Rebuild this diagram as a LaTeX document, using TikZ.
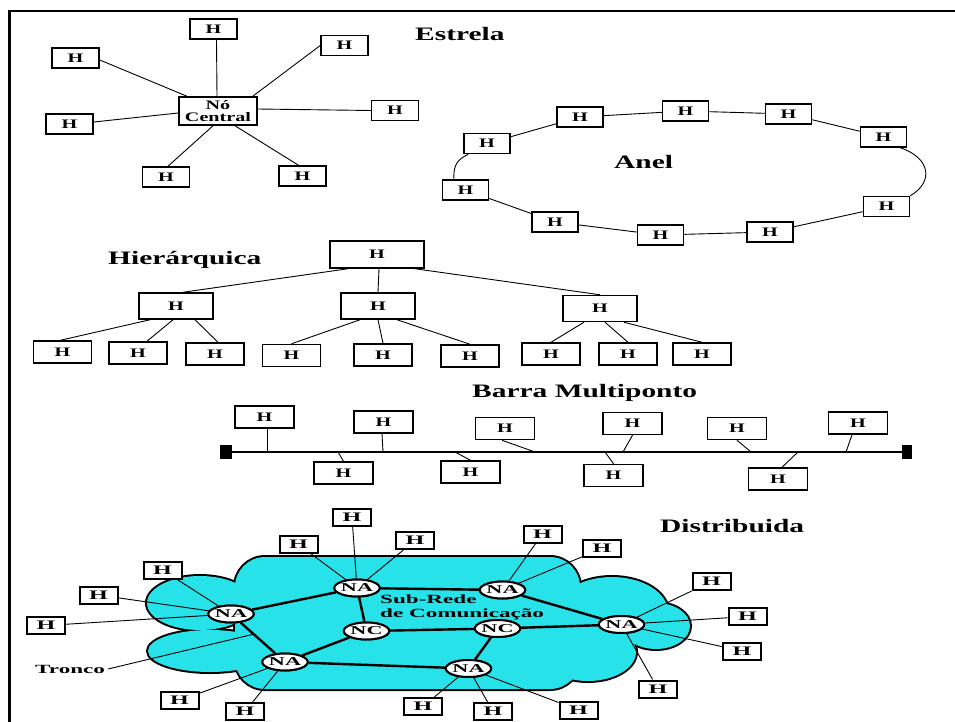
\documentclass[tikz,border=0pt]{standalone}
\usepackage{fontspec}
\setmainfont{Liberation Serif}
\newfontfamily\labf{Liberation Serif}[FakeStretch=1.55]
\newfontfamily\labw{Liberation Serif}[FakeStretch=1.85]
\usetikzlibrary{shapes.geometric,calc}
\definecolor{cloudc}{RGB}{40,226,234}
\newcommand\cloudbody[1]{%
  \path[#1,rounded corners=30pt] (235,557) rectangle (580,689);
  \path[#1] (200,603) ellipse [x radius=53pt,y radius=27pt];
  \path[#1] (210,651) ellipse [x radius=62pt,y radius=21pt];
  \path[#1] (612,612) ellipse [x radius=56pt,y radius=35pt];
  \path[#1] (656,626) ellipse [x radius=34pt,y radius=23pt];
  \path[#1] (588,652) ellipse [x radius=48pt,y radius=29pt];
}
\begin{document}
\begin{tikzpicture}[x=1pt,y=-1pt,
  ln/.style={line width=0.9pt},
  trunk/.style={line width=2.4pt},
  hb/.style={draw,line width=1.5pt,fill=white,inner sep=0pt,font=\labf\bfseries\fontsize{13}{13}\selectfont},
  sbox/.style={hb,minimum width=47pt,minimum height=20pt},
  rbox/.style={hb,minimum width=46pt,minimum height=20pt},
  topbox/.style={hb,minimum width=94pt,minimum height=27pt},
  midbox/.style={hb,minimum width=74pt,minimum height=26pt},
  leafbox/.style={hb,minimum width=58pt,minimum height=22pt},
  busbox/.style={hb,minimum width=59pt,minimum height=22pt},
  hub/.style={hb,minimum width=78pt,minimum height=28pt,align=center,font=\labf\bfseries\fontsize{13}{12}\selectfont},
  ttl/.style={inner sep=0pt,font=\labf\bfseries\fontsize{19}{19}\selectfont},
  sq/.style={fill=black,inner sep=0pt,minimum width=12pt,minimum height=14pt},
  dhost/.style={draw,line width=2pt,fill=white,inner sep=0pt,minimum width=38pt,minimum height=17pt,font=\labw\bfseries\fontsize{13}{13}\selectfont},
  na/.style={ellipse,draw,line width=2pt,fill=white,inner sep=0pt,minimum width=42pt,minimum height=17pt,font=\labw\bfseries\fontsize{12}{12}\selectfont},
  dlab/.style={inner sep=0pt,font=\labw\bfseries\fontsize{12.5}{12.5}\selectfont},
  cloudline/.style={draw=black,line width=4pt},
  cloudfill/.style={fill=cloudc}
]
\useasboundingbox (0,0) rectangle (955,722);
\clip (0,0) rectangle (955,722);
\fill[white] (0,0) rectangle (955,722);
% frame
\draw[line width=2.8pt] (9.5,722) -- (9.5,11) -- (955,11);

% ---------------- Estrela ----------------
\node[ttl,anchor=base west] (tEst) at (415,41) {Estrela};
\node[hub] (hub) at (218,111) {Nó\\Central};
\node[sbox] (s1) at (213.5,29) {H};
\node[sbox] (s2) at (75.5,58) {H};
\node[sbox] (s3) at (344.5,45.5) {H};
\node[sbox] (s4) at (395,110.5) {H};
\node[sbox] (s5) at (69.5,124) {H};
\node[sbox] (s6) at (166,177) {H};
\node[sbox] (s7) at (302.5,176) {H};
\draw[ln] ([xshift=3pt]s1.south) -- ([xshift=-1pt]hub.north);
\draw[ln] ([yshift=-2pt]s2.east) -- ([xshift=-31pt]hub.north);
\draw[ln] (s3.west) -- ([xshift=-5pt]hub.north east);
\draw[ln] (s4.west) -- ([yshift=2pt]hub.east);
\draw[ln] ([yshift=2pt]s5.east) -- ([yshift=-2pt]hub.west);
\draw[ln] ([xshift=2pt]s6.north) -- ([xshift=-5pt]hub.south);
\draw[ln] ([xshift=-4pt]s7.north) -- ([xshift=17pt]hub.south);

% ---------------- Anel ----------------
\node[ttl,anchor=base west] (tAnel) at (614,168) {Anel};
\node[rbox] (r1) at (580,117) {H};
\node[rbox] (r2) at (685.5,111) {H};
\node[rbox] (r3) at (788.5,114) {H};
\node[rbox] (r4) at (883.5,137) {H};
\node[rbox] (r5) at (886.5,206.5) {H};
\node[rbox] (r6) at (770,232) {H};
\node[rbox] (r7) at (660.5,235) {H};
\node[rbox] (r8) at (555,222) {H};
\node[rbox] (r9) at (465.5,190) {H};
\node[rbox] (r10) at (487,143.5) {H};
\foreach \a/\b in {r10/r1,r1/r2,r2/r3,r3/r4,r5/r6,r6/r7,r7/r8,r8/r9}
  \draw[ln] (\a) -- (\b);
\draw[ln] ([xshift=-7pt]r4.south east) .. controls +(30,10) and +(24,-14) .. (r5.north east);
\draw[ln] ([xshift=5pt]r10.south west) .. controls +(-12,6) and +(0,-14) .. ([xshift=12pt]r9.north west);

% ---------------- Hierarquica ----------------
\node[ttl,anchor=base west] (tHier) at (108,264) {Hierárquica};
\node[topbox] (ht) at (377,254.5) {H};
\node[midbox] (m1) at (176,306) {H};
\node[midbox] (m2) at (378,306) {H};
\node[midbox] (m3) at (600,308.5) {H};
\node[leafbox] (l1) at (62.5,352) {H};
\node[leafbox] (l2) at (138,353) {H};
\node[leafbox] (l3) at (215,354) {H};
\node[leafbox] (l4) at (291.5,355.5) {H};
\node[leafbox] (l5) at (383,355) {H};
\node[leafbox] (l6) at (470,356) {H};
\node[leafbox] (l7) at (551,354) {H};
\node[leafbox] (l8) at (628,354) {H};
\node[leafbox] (l9) at (702,354) {H};
\draw[ln] ([xshift=-29pt]ht.south) -- ([xshift=7pt]m1.north);
\draw[ln] ([xshift=2pt]ht.south) -- (m2.north);
\draw[ln] ([xshift=38pt]ht.south) -- (m3.north);
\draw[ln] ([xshift=-26pt]m1.south) -- ([xshift=-2pt]l1.north);
\draw[ln] ([xshift=-3pt]m1.south) -- ([xshift=9pt]l2.north);
\draw[ln] ([xshift=19pt]m1.south) -- ([xshift=3pt]l3.north);
\draw[ln] ([xshift=-18pt]m2.south) -- (l4.north);
\draw[ln] (m2.south) -- (l5.north);
\draw[ln] ([xshift=19pt]m2.south) -- (l6.north);
\draw[ln] ([xshift=-16pt]m3.south) -- (l7.north);
\draw[ln] ([xshift=5pt]m3.south) -- (l8.north);
\draw[ln] ([xshift=24pt]m3.south) -- (l9.north);

% ---------------- Barra Multiponto ----------------
\node[ttl,anchor=base west] (tBar) at (472,397) {Barra Multiponto};
\node[sq] (sqL) at (226,452) {};
\node[sq,minimum width=10pt] (sqR) at (907,452) {};
\draw[line width=2.2pt] (sqL) -- (sqR);
\coordinate (t1) at (267,452);
\coordinate (t2) at (338,452);
\coordinate (t3) at (383,452);
\coordinate (t4) at (455,452);
\coordinate (t5) at (535,452);
\coordinate (t6) at (623,452);
\coordinate (t7) at (605,452);
\coordinate (t8) at (751,452);
\coordinate (t9) at (798,452);
\coordinate (t10) at (846,452);
\node[busbox] (b1) at (264.5,417) {H};
\node[busbox] (b2) at (343.5,473) {H};
\node[busbox] (b3) at (383.5,422) {H};
\node[busbox] (b4) at (470.5,472) {H};
\node[busbox] (b5) at (505,428.5) {H};
\node[busbox] (b6) at (632.5,423.5) {H};
\node[busbox] (b7) at (613.5,475.5) {H};
\node[busbox] (b8) at (737,428.5) {H};
\node[busbox] (b9) at (778,479) {H};
\node[busbox] (b10) at (858,423) {H};
\draw[ln] ([xshift=2.5pt]b1.south) -- (t1);
\draw[ln] (t2) -- (b2.north);
\draw[ln] ([xshift=-1.5pt]b3.south) -- (t3);
\draw[ln] (t4) -- (b4.north);
\draw[ln] ([xshift=-3pt]b5.south) -- (t5);
\draw[ln] (b6.south) -- (t6);
\draw[ln] (t7) -- (b7.north);
\draw[ln] (b8.south) -- (t8);
\draw[ln] (t9) -- ([xshift=4pt]b9.north);
\draw[ln] ([xshift=-6pt]b10.south) -- (t10);

% ---------------- Distribuida ----------------
\node[ttl,anchor=base west] (tDist) at (660,532) {Distribuida};
\cloudbody{cloudline}
\cloudbody{cloudfill}
\coordinate (pL) at (231,614);
\coordinate (pT) at (357,588);
\coordinate (pNCL) at (366.5,631);
\coordinate (pBL) at (285,662);
\coordinate (pTR) at (502.5,590);
\coordinate (pNCR) at (497.5,628.5);
\coordinate (pB) at (468.5,668.5);
\coordinate (pR) at (621.5,624.5);
\node[na] (naL) at (pL) {NA};
\node[na] (naT) at (pT) {NA};
\node[na] (ncL) at (pNCL) {NC};
\node[na] (naBL) at (pBL) {NA};
\node[na] (naTR) at (pTR) {NA};
\node[na] (ncR) at (pNCR) {NC};
\node[na] (naB) at (pB) {NA};
\node[na] (naR) at (pR) {NA};
\node[dhost] (h1) at (352,517.5) {H};
\node[dhost] (h2) at (298.5,544.5) {H};
\node[dhost] (h3) at (415,540.5) {H};
\node[dhost] (h4) at (162.5,570) {H};
\node[dhost] (h5) at (98.5,595) {H};
\node[dhost] (h6) at (46,625.5) {H};
\node[dhost] (h7) at (179.5,700.5) {H};
\node[dhost] (h8) at (245,711.5) {H};
\node[dhost] (h9) at (423,706.5) {H};
\node[dhost] (h10) at (493,711.5) {H};
\node[dhost] (h11) at (578.5,710) {H};
\node[dhost] (h12) at (542.5,534) {H};
\node[dhost] (h13) at (602,548.5) {H};
\node[dhost] (h14) at (711.5,581.5) {H};
\node[dhost] (h15) at (747.5,616.5) {H};
\node[dhost] (h16) at (742,651) {H};
\node[dhost] (h17) at (658,689) {H};
\foreach \a/\b in {h1/naT,h2/naT,h3/naT,h4/naL,h5/naL,h6/naL,h7/naBL,h8/naBL,h9/naB,h10/naB,h11/naB,h12/naTR,h13/naTR,h14/naR,h15/naR,h16/naR,h17/naR}
  \draw[ln] (\a) -- (\b);
\foreach \a/\b in {naL/naT,naL/naBL,naT/ncL,naT/naTR,ncL/ncR,ncL/naBL,naBL/naB,ncR/naB,ncR/naR,naTR/naR}
  \draw[trunk] (\a) -- (\b);
% redraw the node discs above the lines
\foreach \n/\t in {pL/NA,pT/NA,pNCL/NC,pBL/NA,pTR/NA,pNCR/NC,pB/NA,pR/NA}
  \node[na] at (\n) {\t};
\node[dlab,anchor=base west] (sub1) at (380,603) {Sub-Rede};
\node[dlab,anchor=base west] (sub2) at (380,617) {de Comunicação};
\node[dlab,anchor=base west] (tr) at (35,673) {Tronco};
\coordinate (trk) at ($(naL)!0.42!(naBL)$);
\draw[ln] ([xshift=3pt]tr.east) -- (trk);
\end{tikzpicture}
\end{document}
